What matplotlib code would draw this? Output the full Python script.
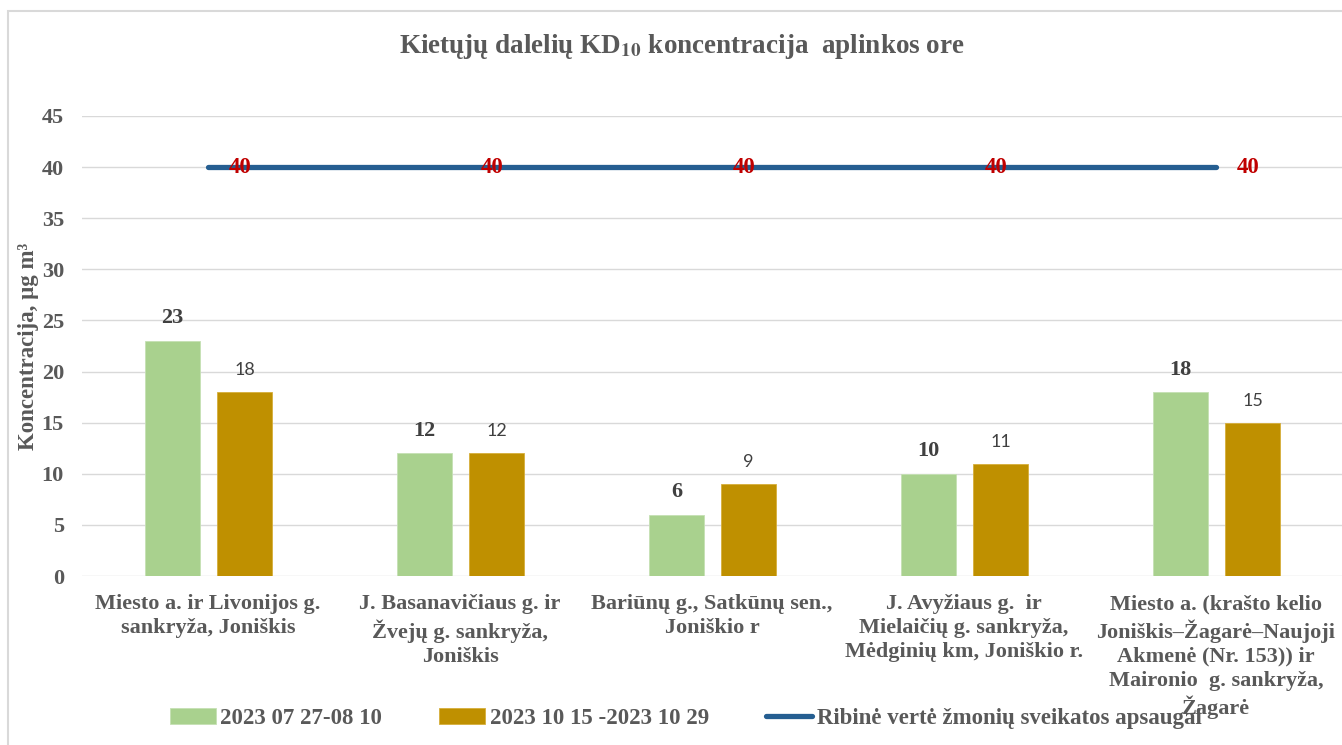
import matplotlib.pyplot as plt
import matplotlib.patches as mpatches
import numpy as np

plt.rcParams['font.family'] = ['Liberation Serif', 'DejaVu Serif']
plt.rcParams['mathtext.fontset'] = 'stix'

# data
places = ['Miesto a. ir Livonijos g.\nsankryža, Joniškis',
          'J. Basanavičiaus g. ir\nŽvejų g. sankryža,\nJoniškis',
          'Bariūnų g., Satkūnų sen.,\nJoniškio r',
          'J. Avyžiaus g.  ir\nMielaičių g. sankryža,\nMėdginių km, Joniškio r.',
          'Miesto a. (krašto kelio\nJoniškis–Žagarė–Naujoji\nAkmenė (Nr. 153)) ir\nMaironio  g. sankryža,\nŽagarė']
summer = [23, 12, 6, 10, 18]
autumn = [18, 12, 9, 11, 15]
limit = [40, 40, 40, 40, 40]
series_names = ['2023 07 27-08 10', '2023 10 15 -2023 10 29',
                'Ribinė vertė žmonių sveikatos apsaugai']

grey = '#595959'
x = np.arange(len(places))

fig = plt.figure(figsize=(13.42, 7.45), dpi=100)
ax = fig.add_axes([0.0611, 0.2268, 0.9389, 0.6175])

# chart border like the office export
fig.patches.append(mpatches.Rectangle((8 / 1342, -0.1), 1.2, (745 - 11) / 745 + 0.1,
                                      transform=fig.transFigure, fill=False,
                                      edgecolor='#D9D9D9', lw=1.5))

w = 0.22
b1 = ax.bar(x - 0.14, summer, w, color='#A9D18E', edgecolor='#C5E0B4', lw=0.6,
            label=series_names[0], zorder=3)
b2 = ax.bar(x + 0.145, autumn, w, color='#BF9000', edgecolor='#D6AE3A', lw=0.6,
            label=series_names[1], zorder=3)
ln, = ax.plot(x, limit, color='#255E91', lw=3.8, solid_capstyle='round',
              label=series_names[2], zorder=4)

for r, v in zip(b1, summer):
    ax.annotate(str(v), (r.get_x() + r.get_width() / 2, v), xytext=(0, 9),
                textcoords='offset points', ha='center', va='bottom',
                fontsize=16, fontweight='bold', color='#404040')
for r, v in zip(b2, autumn):
    ax.annotate(str(v), (r.get_x() + r.get_width() / 2, v), xytext=(0, 10),
                textcoords='offset points', ha='center', va='bottom',
                fontsize=13, family='Lato', color='#404040')
for xi, v in zip(x, limit):
    ax.annotate(str(v), (xi, v), xytext=(23, 0), textcoords='offset points',
                ha='center', va='center', fontsize=16.5, fontweight='bold',
                color='#C00000', zorder=5)

ax.set_xlim(-0.5, 4.5)
ax.set_ylim(0, 45)
ax.set_yticks(range(0, 50, 5))
ax.yaxis.grid(True, color='#D9D9D9', lw=1.0, zorder=0)
ax.set_axisbelow(True)
for s in ax.spines.values():
    s.set_visible(False)
ax.tick_params(length=0)
ax.tick_params(axis='y', labelsize=16, labelcolor=grey, pad=13)
ax.set_yticklabels([str(t) for t in range(0, 50, 5)], fontweight='bold')
ax.set_xticks(x)
ax.set_xticklabels(places, fontsize=16, fontweight='bold', color=grey,
                   linespacing=1.27)
ax.tick_params(axis='x', pad=13)

ax.set_ylabel('Koncentracija, μg m³', fontsize=16.5, fontweight='bold',
              color=grey, labelpad=2)

fig.text(0.508, 0.938, r'Kietųjų dalelių KD$_{\mathbf{10}}$ koncentracija  aplinkos ore',
         ha='center', va='center', fontsize=19.5, fontweight='bold', color=grey)

leg = fig.legend(handles=[b1, b2, ln], loc='center', bbox_to_anchor=(0.511, 0.036),
                 ncol=3, frameon=False, handlelength=2.0, handletextpad=0.2,
                 columnspacing=2.5, prop={'weight': 'bold', 'size': 16.5})
for t in leg.get_texts():
    t.set_color(grey)

fig.savefig('out.png', dpi=100)
